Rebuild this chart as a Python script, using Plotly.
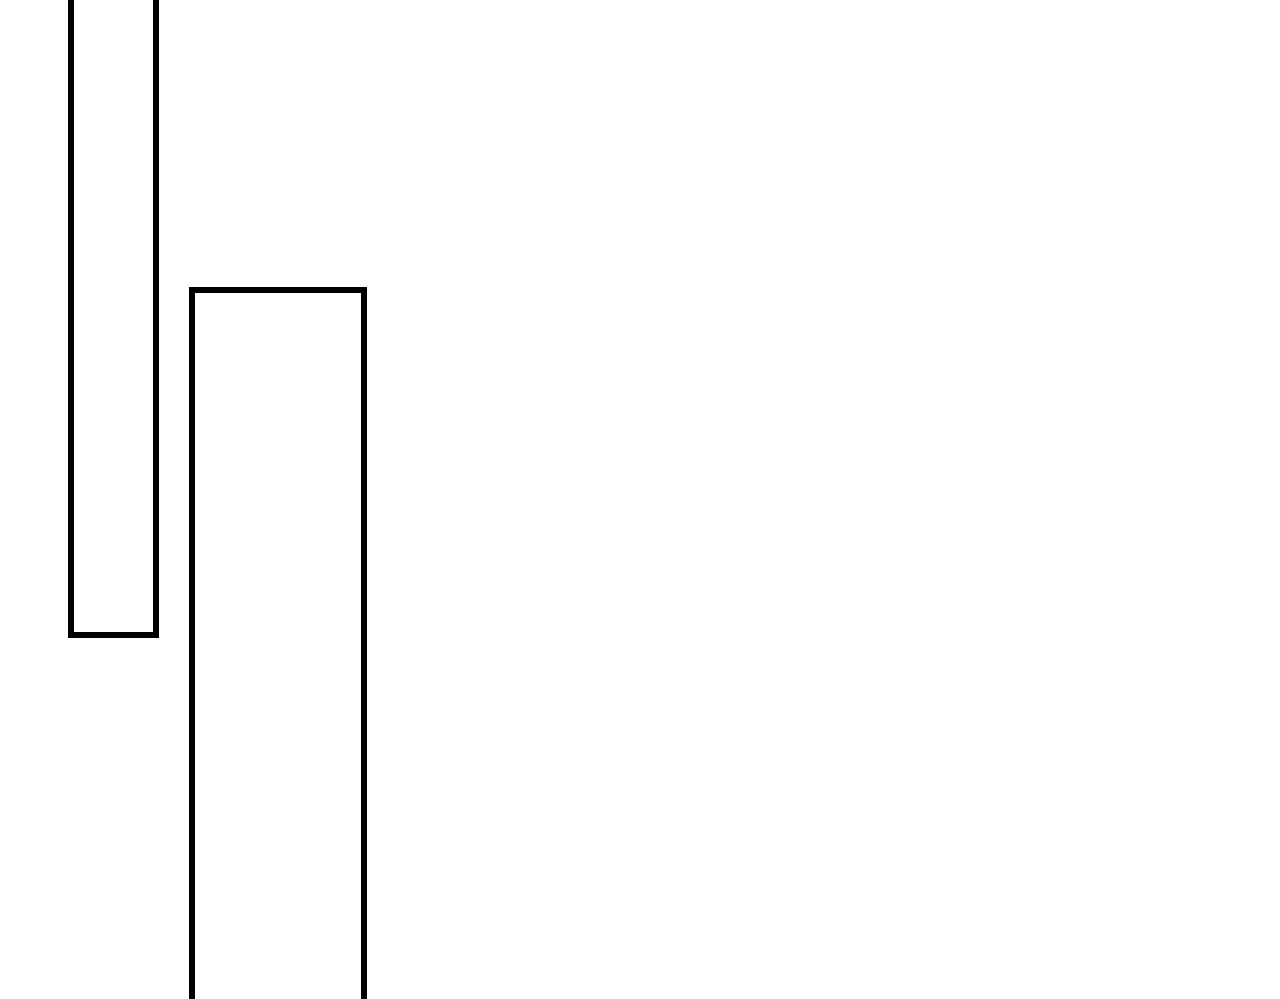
import plotly.graph_objects as go

# Data (arbitrary units, one unit per pixel of the reference)
categories = ["A", "B"]
x_start = [71, 192]
x_width = [85, 172]
y_low = [364, -50]
y_high = [1100, 709]

centers = [s + w / 2 for s, w in zip(x_start, x_width)]
heights = [h - l for h, l in zip(y_high, y_low)]

fig = go.Figure(
    go.Bar(
        x=centers,
        y=heights,
        base=y_low,
        width=x_width,
        text=categories,
        textposition="none",
        marker=dict(color="white", line=dict(color="black", width=6)),
        hoverinfo="skip",
    )
)

fig.update_layout(
    width=1280,
    height=999,
    margin=dict(l=0, r=0, t=0, b=0),
    paper_bgcolor="white",
    plot_bgcolor="white",
    showlegend=False,
    xaxis=dict(range=[0, 1280], visible=False, fixedrange=True),
    yaxis=dict(range=[0, 999], visible=False, fixedrange=True),
)

fig.write_html(
    "out.html",
    config={"displayModeBar": False},
    post_script="document.body.style.margin='0';document.body.style.overflow='hidden';",
)
